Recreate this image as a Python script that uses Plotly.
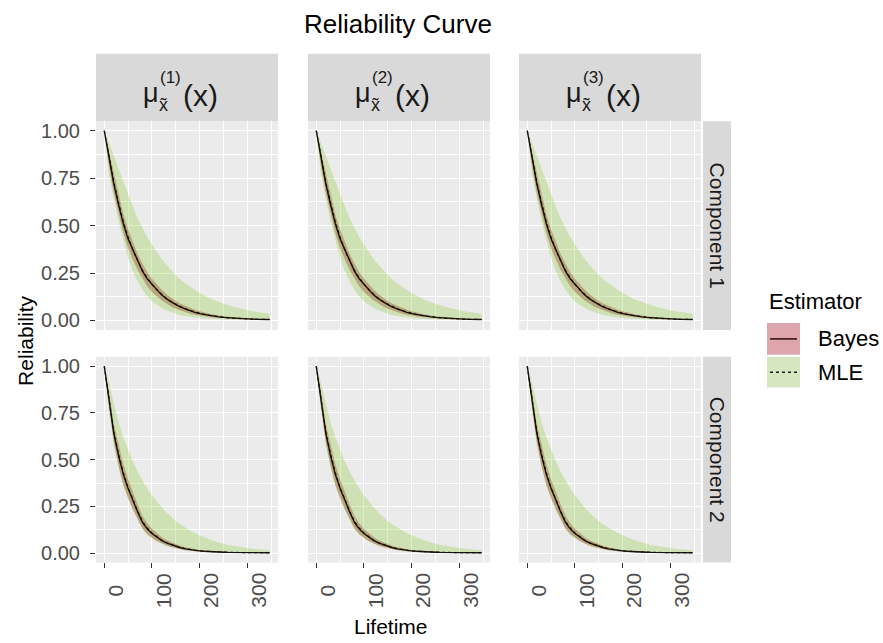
import plotly.graph_objects as go

# ---------------- data ----------------
lifetime = [0, 10, 20, 30, 40, 50, 60, 70, 80, 90, 100, 110, 120, 130, 140, 150, 160, 170,
            180, 190, 200, 210, 220, 230, 240, 250, 260, 270, 280, 290, 300, 310, 320, 330, 340, 347]

columns = ["(1)", "(2)", "(3)"]
components = ["Component 1", "Component 2"]
estimators = ["Bayes", "MLE"]
x_tick_vals = [0, 100, 200, 300]
x_tick_text = ["0", "100", "200", "300"]
y_tick_vals = [0, 0.25, 0.5, 0.75, 1.0]
y_tick_text = ["0.00", "0.25", "0.50", "0.75", "1.00"]

c1_bayes = [1.00, 0.85, 0.72, 0.61, 0.51, 0.43, 0.37, 0.31, 0.26, 0.22, 0.19, 0.16, 0.135, 0.115, 0.097, 0.083,
            0.07, 0.06, 0.05, 0.043, 0.036, 0.031, 0.026, 0.022, 0.019, 0.016, 0.014, 0.012, 0.010, 0.009,
            0.008, 0.007, 0.006, 0.005, 0.005, 0.005]
c1_bayes_hi = [1.00, 0.89, 0.77, 0.66, 0.56, 0.48, 0.41, 0.35, 0.30, 0.255, 0.22, 0.19, 0.163, 0.14, 0.12, 0.103,
               0.088, 0.076, 0.065, 0.056, 0.048, 0.041, 0.035, 0.03, 0.026, 0.022, 0.019, 0.016, 0.014, 0.012,
               0.010, 0.009, 0.008, 0.007, 0.006, 0.006]
c1_bayes_lo = [1.00, 0.81, 0.67, 0.56, 0.46, 0.38, 0.32, 0.265, 0.22, 0.18, 0.15, 0.127, 0.106, 0.089, 0.074, 0.062,
               0.052, 0.044, 0.036, 0.030, 0.025, 0.021, 0.018, 0.015, 0.012, 0.010, 0.009, 0.008, 0.007, 0.006,
               0.005, 0.004, 0.004, 0.003, 0.003, 0.003]
c1_mle = [1.00, 0.86, 0.73, 0.62, 0.52, 0.44, 0.37, 0.315, 0.265, 0.225, 0.19, 0.162, 0.137, 0.117, 0.099, 0.085,
          0.072, 0.061, 0.052, 0.044, 0.037, 0.032, 0.027, 0.023, 0.019, 0.016, 0.014, 0.012, 0.010, 0.009,
          0.008, 0.007, 0.006, 0.005, 0.005, 0.005]
c1_mle_hi = [1.00, 0.94, 0.87, 0.80, 0.73, 0.66, 0.60, 0.54, 0.49, 0.44, 0.40, 0.36, 0.325, 0.295, 0.265, 0.24,
             0.215, 0.195, 0.175, 0.16, 0.145, 0.13, 0.118, 0.107, 0.097, 0.088, 0.08, 0.072, 0.065, 0.059,
             0.054, 0.049, 0.045, 0.041, 0.037, 0.035]
c1_mle_lo = [1.00, 0.77, 0.64, 0.52, 0.42, 0.33, 0.26, 0.205, 0.162, 0.128, 0.10, 0.083, 0.067, 0.054, 0.044, 0.035,
             0.028, 0.022, 0.018, 0.015, 0.012, 0.010, 0.008, 0.007, 0.006, 0.005, 0.004, 0.004, 0.003, 0.003,
             0.003, 0.002, 0.002, 0.002, 0.002, 0.002]

c2_bayes = [1.00, 0.82, 0.64, 0.52, 0.42, 0.345, 0.28, 0.22, 0.165, 0.13, 0.105, 0.085, 0.068, 0.055, 0.045, 0.036,
            0.029, 0.023, 0.018, 0.015, 0.012, 0.010, 0.008, 0.007, 0.006, 0.005, 0.004, 0.004, 0.003, 0.003,
            0.003, 0.003, 0.002, 0.002, 0.002, 0.002]
c2_bayes_hi = [1.00, 0.86, 0.69, 0.575, 0.475, 0.395, 0.325, 0.26, 0.2, 0.16, 0.13, 0.106, 0.086, 0.07, 0.058, 0.047,
               0.038, 0.031, 0.025, 0.021, 0.017, 0.014, 0.012, 0.010, 0.009, 0.008, 0.007, 0.006, 0.005, 0.005,
               0.004, 0.004, 0.004, 0.003, 0.003, 0.003]
c2_bayes_lo = [1.00, 0.78, 0.59, 0.465, 0.365, 0.295, 0.235, 0.18, 0.132, 0.102, 0.082, 0.065, 0.052, 0.041, 0.033, 0.026,
               0.021, 0.016, 0.012, 0.010, 0.008, 0.006, 0.005, 0.004, 0.003, 0.003, 0.002, 0.002, 0.002, 0.002,
               0.001, 0.001, 0.001, 0.001, 0.001, 0.001]
c2_mle = [1.00, 0.83, 0.65, 0.53, 0.43, 0.35, 0.285, 0.225, 0.17, 0.135, 0.108, 0.087, 0.07, 0.057, 0.046, 0.037,
          0.03, 0.024, 0.019, 0.015, 0.012, 0.010, 0.008, 0.007, 0.006, 0.005, 0.004, 0.004, 0.003, 0.003,
          0.003, 0.003, 0.002, 0.002, 0.002, 0.002]
c2_mle_hi = [1.00, 0.91, 0.80, 0.70, 0.62, 0.55, 0.49, 0.435, 0.39, 0.345, 0.31, 0.275, 0.245, 0.218, 0.194, 0.172,
             0.153, 0.136, 0.121, 0.107, 0.095, 0.084, 0.074, 0.065, 0.057, 0.05, 0.044, 0.039, 0.034, 0.03,
             0.027, 0.024, 0.021, 0.019, 0.017, 0.016]
c2_mle_lo = [1.00, 0.77, 0.58, 0.46, 0.36, 0.29, 0.23, 0.175, 0.128, 0.099, 0.079, 0.063, 0.05, 0.04, 0.032, 0.025,
             0.02, 0.015, 0.012, 0.009, 0.007, 0.006, 0.005, 0.004, 0.003, 0.003, 0.002, 0.002, 0.002, 0.001,
             0.001, 0.001, 0.001, 0.001, 0.001, 0.001]

series = {
    "Component 1": dict(bayes=c1_bayes, bayes_lo=c1_bayes_lo, bayes_hi=c1_bayes_hi,
                        mle=c1_mle, mle_lo=c1_mle_lo, mle_hi=c1_mle_hi),
    "Component 2": dict(bayes=c2_bayes, bayes_lo=c2_bayes_lo, bayes_hi=c2_bayes_hi,
                        mle=c2_mle, mle_lo=c2_mle_lo, mle_hi=c2_mle_hi),
}

# ---------------- layout geometry (pixels) ----------------
W, H = 883, 643
col_px = [(96, 278), (308, 490), (519, 701)]
row_px = [(120, 330), (357, 564)]
strip_top = (52, 120)
strip_right = (703, 731)

FONT = "Liberation Sans, Arial, sans-serif"
BAYES_FILL = "rgba(165,20,30,0.38)"
MLE_FILL = "rgba(130,200,40,0.28)"


def fx(p):
    return p / W


def fy(p):
    return 1 - p / H


fig = go.Figure()
layout = dict(
    width=W, height=H,
    margin=dict(l=0, r=0, t=0, b=0),
    paper_bgcolor="white",
    plot_bgcolor="#EBEBEB",
    showlegend=False,
    font=dict(family=FONT, color="#4D4D4D"),
)

shapes = []
annotations = []

idx = 0
for r, comp in enumerate(components):
    d = series[comp]
    for c, colname in enumerate(columns):
        idx += 1
        xa = "x" if idx == 1 else f"x{idx}"
        ya = "y" if idx == 1 else f"y{idx}"
        # ribbons
        fig.add_trace(go.Scatter(
            x=lifetime + lifetime[::-1], y=d["bayes_hi"] + d["bayes_lo"][::-1],
            fill="toself", fillcolor=BAYES_FILL, line=dict(width=0), mode="lines",
            hoverinfo="skip", xaxis=xa, yaxis=ya, name="Bayes"))
        fig.add_trace(go.Scatter(
            x=lifetime + lifetime[::-1], y=d["mle_hi"] + d["mle_lo"][::-1],
            fill="toself", fillcolor=MLE_FILL, line=dict(width=0), mode="lines",
            hoverinfo="skip", xaxis=xa, yaxis=ya, name="MLE"))
        # estimator lines
        fig.add_trace(go.Scatter(
            x=lifetime, y=d["bayes"], mode="lines", line=dict(color="#1a1108", width=1.4),
            xaxis=xa, yaxis=ya, name="Bayes"))
        fig.add_trace(go.Scatter(
            x=lifetime, y=d["mle"], mode="lines", line=dict(color="#111111", width=1.2, dash="dot"),
            xaxis=xa, yaxis=ya, name="MLE"))

        x0, x1 = col_px[c]
        y0, y1 = row_px[r]
        bottom = r == len(components) - 1
        left = c == 0
        xkey = "xaxis" if idx == 1 else f"xaxis{idx}"
        ykey = "yaxis" if idx == 1 else f"yaxis{idx}"
        layout[xkey] = dict(
            domain=[fx(x0), fx(x1)], anchor=ya, range=[-17.35, 364.35],
            tickmode="array", tickvals=x_tick_vals, ticktext=x_tick_text,
            showticklabels=False, ticks="outside" if bottom else "",
            ticklen=5, tickwidth=1, tickcolor="#333333",
            showgrid=True, gridcolor="white", gridwidth=1.2, zeroline=False, showline=False,
            minor=dict(dtick=50, tick0=0, showgrid=True, gridcolor="white", gridwidth=0.6),
        )
        layout[ykey] = dict(
            domain=[fy(y1), fy(y0)], anchor=xa, range=[-0.05, 1.05],
            tickmode="array", tickvals=y_tick_vals, ticktext=y_tick_text,
            showticklabels=left, ticks="outside" if left else "",
            ticklen=5, tickwidth=1, tickcolor="#333333", ticklabelstandoff=6,
            tickfont=dict(size=20, color="#4D4D4D", family=FONT),
            showgrid=True, gridcolor="white", gridwidth=1.2, zeroline=False, showline=False,
            minor=dict(dtick=0.125, tick0=0, showgrid=True, gridcolor="white", gridwidth=0.6),
        )
        # rotated x tick labels (ggplot centres them, slightly right of the tick)
        if bottom:
            for v, t in zip(x_tick_vals, x_tick_text):
                annotations.append(dict(text=t, xref=xa, yref="paper", x=v, y=fy(592),
                                        xshift=11, showarrow=False, textangle=-90,
                                        xanchor="center", yanchor="middle",
                                        font=dict(size=21, color="#4D4D4D", family=FONT)))

# ---------------- strips ----------------
for c, colname in enumerate(columns):
    x0, x1 = col_px[c]
    shapes.append(dict(type="rect", xref="paper", yref="paper", x0=fx(x0), x1=fx(x1),
                       y0=fy(strip_top[1]), y1=fy(strip_top[0]), fillcolor="#D9D9D9", line=dict(width=0),
                       layer="below"))
    cx = (x0 + x1) / 2
    annotations.append(dict(text="μ", xref="paper", yref="paper", x=fx(cx - 36), y=fy(92),
                            showarrow=False, xanchor="center", yanchor="middle",
                            font=dict(size=27, color="#1A1A1A", family=FONT)))
    annotations.append(dict(text="x̃", xref="paper", yref="paper", x=fx(cx - 24), y=fy(104),
                            showarrow=False, xanchor="center", yanchor="middle",
                            font=dict(size=18, color="#1A1A1A", family=FONT)))
    annotations.append(dict(text=colname, xref="paper", yref="paper", x=fx(cx - 17), y=fy(76),
                            showarrow=False, xanchor="center", yanchor="middle",
                            font=dict(size=17, color="#1A1A1A", family=FONT)))
    annotations.append(dict(text="(x)", xref="paper", yref="paper", x=fx(cx - 6), y=fy(94),
                            showarrow=False, xanchor="left", yanchor="middle",
                            font=dict(size=30, color="#1A1A1A", family=FONT)))

for r, comp in enumerate(components):
    y0, y1 = row_px[r]
    shapes.append(dict(type="rect", xref="paper", yref="paper", x0=fx(strip_right[0]), x1=fx(strip_right[1]),
                       y0=fy(y1), y1=fy(y0), fillcolor="#D9D9D9", line=dict(width=0), layer="below"))
    annotations.append(dict(text=comp, xref="paper", yref="paper",
                            x=fx((strip_right[0] + strip_right[1]) / 2), y=fy((y0 + y1) / 2),
                            showarrow=False, textangle=90, xanchor="center", yanchor="middle",
                            font=dict(size=21, color="#1A1A1A", family=FONT)))

# ---------------- titles ----------------
annotations.append(dict(text="Reliability Curve", xref="paper", yref="paper", x=fx(398), y=fy(22),
                        showarrow=False, xanchor="center", yanchor="middle",
                        font=dict(size=26, color="#000000", family=FONT)))
annotations.append(dict(text="Lifetime", xref="paper", yref="paper", x=fx(391), y=fy(628),
                        showarrow=False, xanchor="center", yanchor="middle",
                        font=dict(size=21, color="#000000", family=FONT)))
annotations.append(dict(text="Reliability", xref="paper", yref="paper", x=fx(26), y=fy(341),
                        showarrow=False, textangle=-90, xanchor="center", yanchor="middle",
                        font=dict(size=21, color="#000000", family=FONT)))

# ---------------- legend (drawn) ----------------
annotations.append(dict(text="Estimator", xref="paper", yref="paper", x=fx(767), y=fy(301),
                        showarrow=False, xanchor="left", yanchor="middle",
                        font=dict(size=22, color="#000000", family=FONT)))
key_rows = [(323, 355), (357, 388)]
key_fill = ["rgb(220,166,172)", "rgb(214,230,193)"]
key_dash = ["solid", "dot"]
for k, est in enumerate(estimators):
    ky0, ky1 = key_rows[k]
    shapes.append(dict(type="rect", xref="paper", yref="paper", x0=fx(767), x1=fx(800),
                       y0=fy(ky1), y1=fy(ky0), fillcolor=key_fill[k], line=dict(width=0)))
    ym = (ky0 + ky1) / 2
    shapes.append(dict(type="line", xref="paper", yref="paper", x0=fx(770), x1=fx(797),
                       y0=fy(ym), y1=fy(ym), line=dict(color="#3a1515" if k == 0 else "#222222",
                                                       width=1.6, dash=key_dash[k])))
    annotations.append(dict(text=est, xref="paper", yref="paper", x=fx(816), y=fy(ym),
                            showarrow=False, xanchor="left", yanchor="middle",
                            font=dict(size=22, color="#000000", family=FONT)))

layout["shapes"] = shapes
layout["annotations"] = annotations
fig.update_layout(**layout)
fig.write_html("out.html")
